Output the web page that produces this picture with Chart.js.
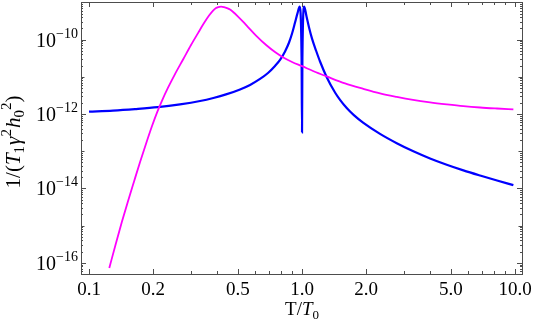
<!DOCTYPE html>
<html>
<head>
<meta charset="utf-8">
<script src="https://cdn.jsdelivr.net/npm/chart.js@4.4.1/dist/chart.umd.min.js"></script>
<style>
  html, body { margin: 0; padding: 0; background: #fff; }
  canvas { display: block; }
</style>
</head>
<body>
<canvas id="chart" width="533" height="330"></canvas>
<script>
// ---- data ----
const magentaT = [0.1245, 0.1339, 0.1428, 0.1524, 0.1627, 0.1735, 0.1852, 0.1976, 0.2085, 0.2202, 0.2349, 0.2533, 0.2772, 0.3012, 0.3249, 0.3467, 0.3660, 0.3823, 0.3947, 0.4046, 0.4167, 0.4303, 0.4444, 0.4592, 0.5006, 0.5499, 0.6082, 0.6827, 0.7466, 0.8171, 0.8977, 1.0, 1.126, 1.306, 1.592, 1.941, 2.323, 2.784, 3.32, 3.99, 4.778, 5.72, 6.85, 8.23, 9.82];
const magentaV = [7.26e-17, 3.40e-16, 1.28e-15, 4.54e-15, 1.54e-14, 5.04e-14, 1.59e-13, 4.74e-13, 1.09e-12, 2.29e-12, 5.07e-12, 1.18e-11, 3.00e-11, 7.13e-11, 1.49e-10, 2.77e-10, 4.40e-10, 5.98e-10, 7.00e-10, 7.43e-10, 7.67e-10, 7.43e-10, 7.00e-10, 6.37e-10, 4.14e-10, 2.37e-10, 1.28e-10, 6.90e-11, 4.62e-11, 3.29e-11, 2.49e-11, 1.92e-11, 1.43e-11, 1.02e-11, 6.61e-12, 4.71e-12, 3.56e-12, 2.87e-12, 2.39e-12, 2.05e-12, 1.81e-12, 1.62e-12, 1.49e-12, 1.40e-12, 1.33e-12];

const blueT = [0.1, 0.1296, 0.1644, 0.2102, 0.2674, 0.3321, 0.3834, 0.4396, 0.5116, 0.5701, 0.6351, 0.6921, 0.7466, 0.7884, 0.8321, 0.8690, 0.8977, 0.9271, 0.9525, 0.9744, 0.995, 1.0, 1.004, 1.0241, 1.0499, 1.0786, 1.114, 1.1633, 1.2148, 1.306, 1.4286, 1.508, 1.621, 1.751, 1.934, 2.323, 2.784, 3.331, 3.99, 4.778, 5.72, 6.85, 8.23, 9.82];
const blueV = [1.15e-12, 1.23e-12, 1.35e-12, 1.52e-12, 1.81e-12, 2.23e-12, 2.69e-12, 3.35e-12, 4.57e-12, 6.03e-12, 8.73e-12, 1.26e-11, 1.95e-11, 2.82e-11, 4.77e-11, 8.32e-11, 1.45e-10, 2.86e-10, 5.13e-10, 7.67e-10, 3.29e-11, 3.21e-13, 3.29e-11, 7.67e-10, 4.14e-10, 2.10e-10, 1.06e-10, 5.07e-11, 2.57e-11, 9.75e-12, 3.77e-12, 2.39e-12, 1.44e-12, 9.29e-13, 5.85e-13, 2.92e-13, 1.64e-13, 9.93e-14, 6.37e-14, 4.32e-14, 3.05e-14, 2.22e-14, 1.63e-14, 1.22e-14];

// ---- axes ----
const xTickValues = [0.1, 0.2, 0.5, 1, 2, 5, 10];
const xTickLabels = ["0.1", "0.2", "0.5", "1.0", "2.0", "5.0", "10.0"];
const xMinorTicks = [0.3, 0.4, 0.6, 0.7, 0.8, 0.9, 3, 4, 6, 7, 8, 9];
const yTickValues = [1e-16, 1e-14, 1e-12, 1e-10];
const yTickExps = ["\u221216", "\u221214", "\u221212", "\u221210"];
const yMidTicks = [1e-15, 1e-13, 1e-11, 1e-9];

const X_MIN = 0.0917, X_MAX = 10.78;
const Y_MIN = 5.4e-17, Y_MAX = 1.02e-9;

const SERIF = '"Liberation Serif", "DejaVu Serif", serif';

function pts(xs, ys) {
  return xs.map((x, i) => ({ x: x, y: ys[i] }));
}

// draw a run of text pieces (normal / italic / sub / sup)
function drawRich(ctx, segs, x, y, align) {
  let total = 0;
  segs.forEach(s => {
    ctx.font = (s.it ? "italic " : "") + s.size + "px " + SERIF;
    s.w = ctx.measureText(s.t).width;
    total += s.w + (s.gap || 0);
  });
  let cx = align === "center" ? x - total / 2 : align === "right" ? x - total : x;
  segs.forEach(s => {
    ctx.font = (s.it ? "italic " : "") + s.size + "px " + SERIF;
    ctx.fillText(s.t, cx, y + (s.dy || 0));
    cx += s.w + (s.gap || 0);
  });
}

const framePlugin = {
  id: "frame",
  afterDraw(chart) {
    const ctx = chart.ctx;
    const a = chart.chartArea;
    const xs = chart.scales.x, ys = chart.scales.y;
    ctx.save();

    // frame
    ctx.strokeStyle = "#4d4d4d";
    ctx.lineWidth = 1;
    ctx.strokeRect(Math.round(a.left) + 0.5, Math.round(a.top) + 0.5,
      Math.round(a.right - a.left), Math.round(a.bottom - a.top));

    // inward ticks
    ctx.beginPath();
    const xt = (v, len) => {
      const px = Math.round(xs.getPixelForValue(v)) + 0.5;
      ctx.moveTo(px, a.bottom); ctx.lineTo(px, a.bottom - len);
      ctx.moveTo(px, a.top); ctx.lineTo(px, a.top + len);
    };
    const yt = (v, len) => {
      if (v < Y_MIN || v > Y_MAX) return;
      const py = Math.round(ys.getPixelForValue(v)) + 0.5;
      ctx.moveTo(a.left, py); ctx.lineTo(a.left + len, py);
      ctx.moveTo(a.right, py); ctx.lineTo(a.right - len, py);
    };
    xTickValues.forEach(v => xt(v, 5));
    xMinorTicks.forEach(v => xt(v, 3));
    yTickValues.forEach(v => yt(v, 5));
    yMidTicks.forEach(v => yt(v, 3.5));
    for (let e = -17; e <= -10; e++) {
      for (let m = 2; m <= 9; m++) yt(m * Math.pow(10, e), 2);
    }
    ctx.stroke();

    // tick labels
    ctx.fillStyle = "#000";
    ctx.textBaseline = "alphabetic";
    xTickValues.forEach((v, i) => {
      drawRich(ctx, [{ t: xTickLabels[i], size: 19 }], xs.getPixelForValue(v), 295, "center");
    });
    yTickValues.forEach((v, i) => {
      const py = ys.getPixelForValue(v);
      drawRich(ctx, [
        { t: "10", size: 20 },
        { t: yTickExps[i], size: 14, dy: -9 }
      ], a.left - 3, py + 7, "right");
    });

    // x title: T/T0
    drawRich(ctx, [
      { t: "T/", size: 19 },
      { t: "T", size: 19, it: true },
      { t: "0", size: 13, dy: 4 }
    ], 302, 315, "center");

    // y title: 1/(T1 γ^2 h0^2)
    ctx.translate(20, 142);
    ctx.rotate(-Math.PI / 2);
    drawRich(ctx, [
      { t: "1/(", size: 21 },
      { t: "T", size: 21, it: true },
      { t: "1", size: 15, dy: 4, gap: 1 },
      { t: "\u03b3", size: 21, it: true },
      { t: "2", size: 15, dy: -9, gap: 1 },
      { t: "h", size: 21, it: true },
      { t: "0", size: 15, dy: 4 },
      { t: "2", size: 15, dy: -9 },
      { t: ")", size: 21 }
    ], 0, 0, "center");

    ctx.restore();
  }
};

new Chart(document.getElementById("chart"), {
  type: "line",
  data: {
    datasets: [
      {
        data: pts(magentaT, magentaV),
        borderColor: "#ff00ff",
        borderWidth: 1.8,
        pointRadius: 0,
        cubicInterpolationMode: "monotone",
        fill: false
      },
      {
        data: pts(blueT, blueV),
        borderColor: "#0000ff",
        borderWidth: 2.2,
        pointRadius: 0,
        cubicInterpolationMode: "monotone",
        fill: false
      }
    ]
  },
  options: {
    responsive: false,
    animation: false,
    parsing: false,
    layout: { padding: { top: 2, right: 11, left: 0, bottom: 0 } },
    plugins: { legend: { display: false }, tooltip: { enabled: false } },
    scales: {
      x: {
        type: "logarithmic",
        min: X_MIN, max: X_MAX,
        grid: { display: false },
        border: { display: false },
        ticks: { display: false },
        afterFit: s => { s.height = 56; }
      },
      y: {
        type: "logarithmic",
        min: Y_MIN, max: Y_MAX,
        grid: { display: false },
        border: { display: false },
        ticks: { display: false },
        afterFit: s => { s.width = 81; }
      }
    }
  },
  plugins: [framePlugin]
});
</script>
</body>
</html>
